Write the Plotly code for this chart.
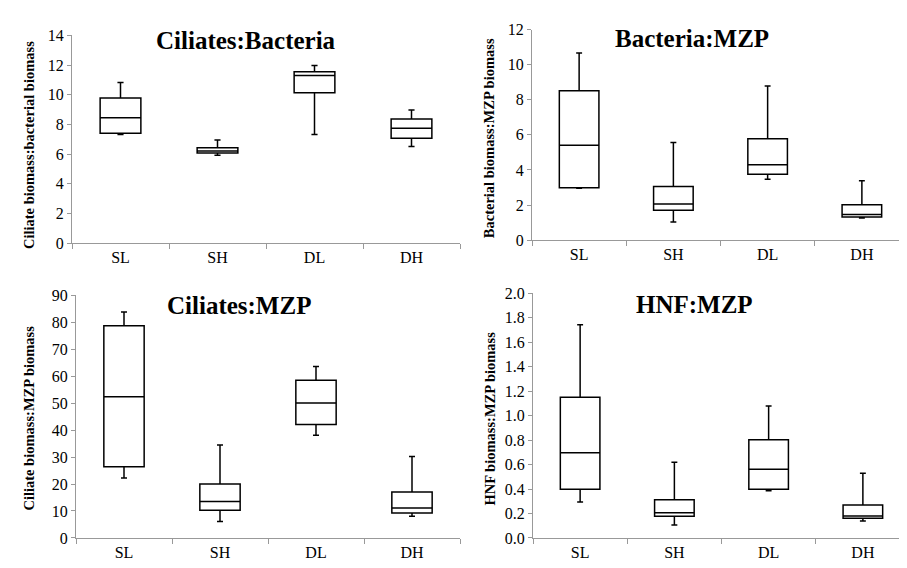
import plotly.graph_objects as go

W, H = 907, 568
cats = ["SL", "SH", "DL", "DH"]

# Panel 1: Ciliates:Bacteria
cb_low = [7.31, 5.92, 7.31, 6.51]
cb_q1 = [7.40, 6.07, 10.13, 7.07]
cb_med = [8.45, 6.20, 11.29, 7.73]
cb_q3 = [9.78, 6.42, 11.55, 8.36]
cb_up = [10.83, 6.94, 11.97, 8.97]

# Panel 2: Bacteria:MZP
bm_low = [2.95, 1.03, 3.47, 1.26]
bm_q1 = [2.99, 1.70, 3.75, 1.31]
bm_med = [5.41, 2.05, 4.30, 1.46]
bm_q3 = [8.51, 3.05, 5.78, 2.01]
bm_up = [10.67, 5.56, 8.79, 3.38]

# Panel 3: Ciliates:MZP
cm_low = [22.2, 6.1, 38.1, 8.0]
cm_q1 = [26.4, 10.3, 42.1, 9.2]
cm_med = [52.4, 13.5, 50.1, 11.1]
cm_q3 = [78.7, 20.0, 58.5, 17.0]
cm_up = [83.8, 34.5, 63.6, 30.2]

# Panel 4: HNF:MZP
hm_low = [0.294, 0.106, 0.386, 0.138]
hm_q1 = [0.397, 0.177, 0.399, 0.161]
hm_med = [0.696, 0.206, 0.561, 0.180]
hm_q3 = [1.151, 0.312, 0.804, 0.270]
hm_up = [1.743, 0.619, 1.079, 0.529]

titles = ["Ciliates:Bacteria", "Bacteria:MZP", "Ciliates:MZP", "HNF:MZP"]
ytitles = ["Ciliate biomass:bacterial biomass", "Bacterial biomass:MZP biomass",
           "Ciliate biomass:MZP biomass", "HNF biomass:MZP biomass"]
yranges = [(0, 14, 2), (0, 12, 2), (0, 90, 10), (0, 2.0, 0.2)]
ytickfmt = ["d", "d", "d", ".1f"]

data = [
    (cb_low, cb_q1, cb_med, cb_q3, cb_up),
    (bm_low, bm_q1, bm_med, bm_q3, bm_up),
    (cm_low, cm_q1, cm_med, cm_q3, cm_up),
    (hm_low, hm_q1, hm_med, hm_q3, hm_up),
]

# pixel boxes (x0, x1, ytop, ybottom)
boxes = [(64, 452, 20, 234), (524, 901, 14, 231), (68, 452, 288, 538), (525, 902, 286, 538)]
title_pos = [(238, 25), (684, 23), (231, 298), (686, 297)]
ytitle_x = [21, 481, 21, 482]
ytitle_y = [133, 126, 415, 415]

FONT = "Liberation Serif, Times New Roman, serif"
fig = go.Figure()
layout = dict(
    width=W, height=H, margin=dict(l=0, r=0, t=0, b=0),
    paper_bgcolor="white", plot_bgcolor="white", showlegend=False,
    font=dict(family=FONT, size=14, color="black"),
)
annotations = []
for i, (low, q1, med, q3, up) in enumerate(data):
    n = "" if i == 0 else str(i + 1)
    fig.add_trace(go.Box(
        x=cats, lowerfence=low, q1=q1, median=med, q3=q3, upperfence=up,
        xaxis="x" + n, yaxis="y" + n,
        fillcolor="white", line=dict(color="black", width=1.5),
        width=0.42, whiskerwidth=0.15, boxpoints=False, hoverinfo="skip",
    ))
    x0, x1, yt, yb = boxes[i]
    lo, hi, dt = yranges[i]
    layout["xaxis" + n] = dict(
        domain=[x0 / W, x1 / W], anchor="y" + n, type="category",
        categoryorder="array", categoryarray=cats, range=[-0.5, 3.5],
        showline=True, linecolor="#999999", linewidth=1,
        ticks="outside", tickson="boundaries", ticklen=5, tickcolor="#999999",
        showgrid=False, zeroline=False,
        tickfont=dict(family=FONT, size=16, color="black"),
    )
    layout["yaxis" + n] = dict(
        domain=[1 - yb / H, 1 - yt / H], anchor="x" + n,
        range=[lo, hi], dtick=dt, tick0=0, tickformat=ytickfmt[i],
        showline=True, linecolor="#999999", linewidth=1,
        ticks="outside", ticklen=4, tickcolor="#999999",
        showgrid=False, zeroline=False,
        tickfont=dict(family=FONT, size=16, color="black"),
    )
    tx, ty = title_pos[i]
    annotations.append(dict(
        text="<b>" + titles[i] + "</b>", x=tx / W, y=1 - ty / H,
        xref="paper", yref="paper", xanchor="center", yanchor="middle",
        showarrow=False, font=dict(family=FONT, size=25, color="black"),
    ))
    annotations.append(dict(
        text="<b>" + ytitles[i] + "</b>", x=ytitle_x[i] / W, y=1 - ytitle_y[i] / H,
        xref="paper", yref="paper", xanchor="center", yanchor="middle",
        textangle=-90, showarrow=False, font=dict(family=FONT, size=14.5, color="black"),
    ))
layout["annotations"] = annotations
fig.update_layout(**layout)
fig.write_html("out.html")
